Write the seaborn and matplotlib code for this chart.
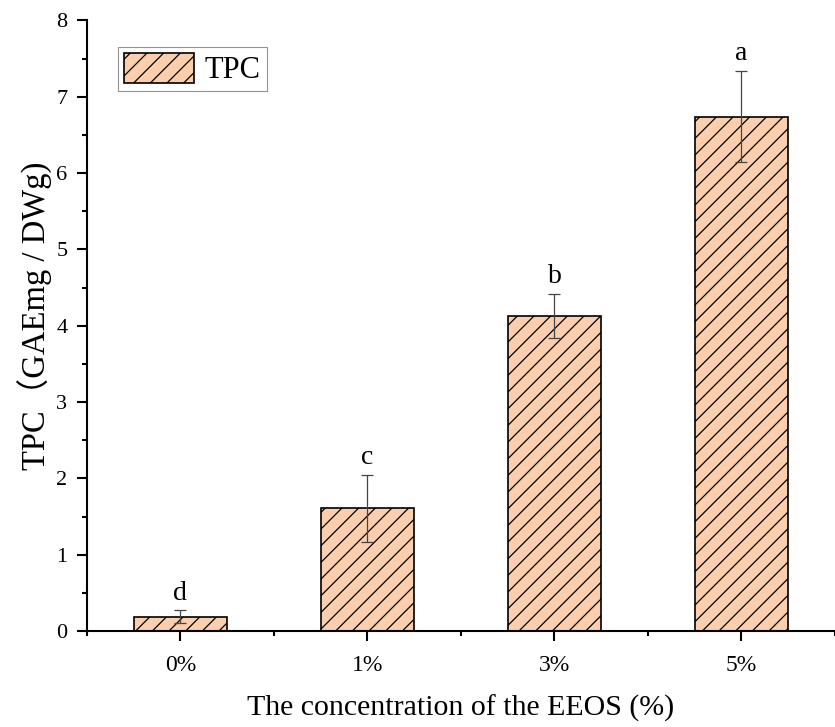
import matplotlib
matplotlib.use("Agg")
import matplotlib.pyplot as plt
import seaborn as sns
import pandas as pd
from matplotlib.patches import Patch
from matplotlib.ticker import MultipleLocator

categories = ["0%", "1%", "3%", "5%"]
values = [0.19, 1.61, 4.13, 6.74]
errors = [0.08, 0.44, 0.29, 0.60]
letters = ["d", "c", "b", "a"]

sns.set_style("ticks")
plt.rcParams['font.family'] = ['Liberation Serif', 'Noto Sans CJK SC']
plt.rcParams['hatch.color'] = '#8a4a2a'
plt.rcParams['hatch.linewidth'] = 0.9
for k in ['text.color', 'axes.labelcolor', 'xtick.color', 'ytick.color', 'axes.edgecolor']:
    plt.rcParams[k] = 'black'

fill = '#fbcfae'
df = pd.DataFrame({"conc": categories, "tpc": values})

fig = plt.figure(figsize=(8.35, 7.27), dpi=100)
ax = fig.add_axes([0.104, 0.132, 0.896, 0.840])

sns.barplot(data=df, x="conc", y="tpc", color=fill, saturation=1, width=0.5,
            edgecolor='black', linewidth=1.2, errorbar=None, ax=ax)
for p in ax.patches:
    p.set_hatch('//')
    p.set_facecolor(fill)
    p.set_edgecolor('black')

xs = list(range(len(categories)))
ax.errorbar(xs, values, yerr=errors, fmt='none', ecolor='#444444', elinewidth=0.9,
            capsize=4, capthick=0.9)
for x, v, e, l in zip(xs, values, errors, letters):
    ax.text(x, v + e + 0.14, l, ha='center', va='baseline', fontsize=20)

ax.set_xlim(-0.49, 3.447)
ax.set_ylim(0, 8)
ax.yaxis.set_major_locator(MultipleLocator(1))
ax.yaxis.set_minor_locator(MultipleLocator(0.5))
ax.set_xticks(xs)
ax.set_xticklabels(categories)
ax.set_xticks([x + 0.5 for x in [-1] + xs], minor=True)
ax.tick_params(axis='both', which='major', direction='out', length=7, width=1.5, labelsize=16, pad=7)
ax.tick_params(axis='both', which='minor', direction='out', length=3.5, width=1.5)
ax.tick_params(axis='x', which='major', pad=10, labelsize=17)
for s in ['top', 'right']:
    ax.spines[s].set_visible(False)
for s in ['left', 'bottom']:
    ax.spines[s].set_linewidth(1.5)

ax.set_xlabel("The concentration of the EEOS (%)", fontsize=21.5, labelpad=14)
ax.set_ylabel("TPC（GAEmg / DWg)", fontsize=23.5)
ax.yaxis.set_label_coords(-0.045, 0.5155)

handle = Patch(facecolor=fill, edgecolor='black', hatch='//', linewidth=1.2)
leg = ax.legend([handle], ["TPC"], loc='upper left', bbox_to_anchor=(0.041, 0.957),
                fontsize=22, frameon=True, fancybox=False, edgecolor='#777777',
                handlelength=2.3, handleheight=1.15, borderpad=0.2, handletextpad=0.35,
                borderaxespad=0)
leg.get_frame().set_linewidth(0.8)

fig.savefig("out.png", dpi=100)
